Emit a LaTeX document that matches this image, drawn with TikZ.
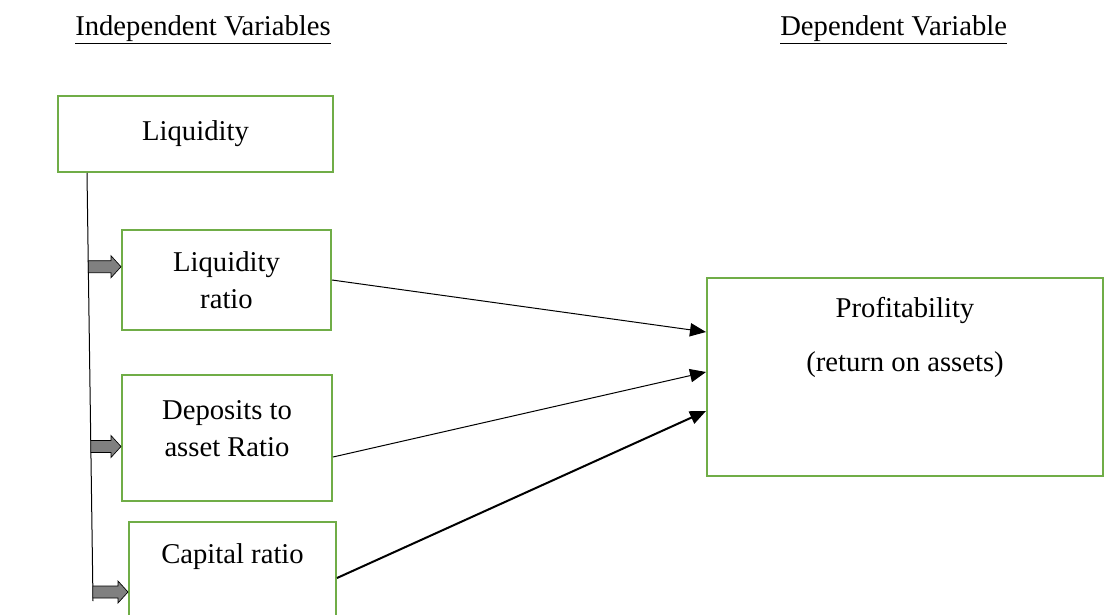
\documentclass[tikz,border=0pt]{standalone}
\usepackage{fontspec}
\setmainfont{Liberation Serif}
\usepackage{tikz}
\usetikzlibrary{positioning,calc,arrows.meta}
\definecolor{boxgreen}{RGB}{112,173,71}
\tikzset{
  varbox/.style={rectangle,draw=boxgreen,line width=1.5pt,inner sep=0pt,align=center,font=\fontsize{21.5}{28}\selectfont},
  vartext/.style={inner sep=0pt,align=center,font=\fontsize{21.5}{28}\selectfont},
  headtext/.style={inner sep=0pt,anchor=base west,font=\fontsize{21.5}{28}\selectfont},
  linkarrow/.style={-{Triangle[length=12pt,width=10pt]},line width=0.75pt},
  fatarrow/.style={draw=black,line width=0.5pt,fill=gray}
}
\newcommand{\blockarrow}[2]{%
  \draw[fatarrow] let \p1=(#1), \p2=(#1 -| #2.west) in
    (\x1,\y1+4.5pt) -- (\x2-7.5pt,\y1+4.5pt) -- (\x2-7.5pt,\y1+8.25pt)
    -- (\x2,\y1) -- (\x2-7.5pt,\y1-8.25pt) -- (\x2-7.5pt,\y1-4.5pt)
    -- (\x1,\y1-4.5pt) -- cycle;}

\begin{document}
\begin{tikzpicture}[x=0.75pt,y=-0.75pt]
  \useasboundingbox (0,0) rectangle (1117,614);
  \clip (0,0) rectangle (1117,614);
  \node[headtext] (indep) at (75,35) {\underline{Independent Variables}};
  \node[headtext] (dep) at (780,35) {\underline{Dependent Variable}};

  \node[varbox,minimum width=206.25pt,minimum height=57pt] (liq) at (195.5,134) {Liquidity};
  \node[varbox,minimum width=156.75pt,minimum height=75pt] (lr) at (226.5,280) {Liquidity\\ratio};
  \node[varbox,minimum width=157.5pt,minimum height=94.5pt] (dar) at (227,438) {};
  \node[vartext] (dartext) at ($(dar.center)+(0,-9.5)$) {Deposits to\\asset Ratio};
  \node[varbox,minimum width=155.25pt,minimum height=90pt] (cap) at (232.5,582) {};
  \node[vartext] (captext) at ($(cap.north)+(0,36)$) {Capital ratio};
  \node[varbox,minimum width=297pt,minimum height=148.5pt] (prof) at (905,377) {};
  \node[vartext] (proftext) at ($(prof.north)+(0,60.5)$) {Profitability\\[12pt](return on assets)};

  \coordinate (trunktop) at ($(liq.south west)+(30,0)$);
  \coordinate (trunkbot) at (93,601);
  \draw[line width=0.75pt] (trunktop) -- (trunkbot);
  \coordinate (lrtap) at ($(trunktop)!0.219!(trunkbot)$);
  \coordinate (dartap) at ($(trunktop)!0.639!(trunkbot)$);
  \coordinate (captap) at ($(trunktop)!0.979!(trunkbot)$);
  \blockarrow{lrtap}{lr}
  \blockarrow{dartap}{dar}
  \blockarrow{captap}{cap}

  \draw[linkarrow] (lr.east) -- ($(prof.west)+(0,-45)$);
  \draw[linkarrow] ($(dar.east)+(0,19)$) -- ($(prof.west)+(0,-5)$);
  \draw[linkarrow,line width=1.5pt] ($(cap.east)+(0,-4)$) -- ($(prof.west)+(0,34)$);
\end{tikzpicture}
\end{document}
